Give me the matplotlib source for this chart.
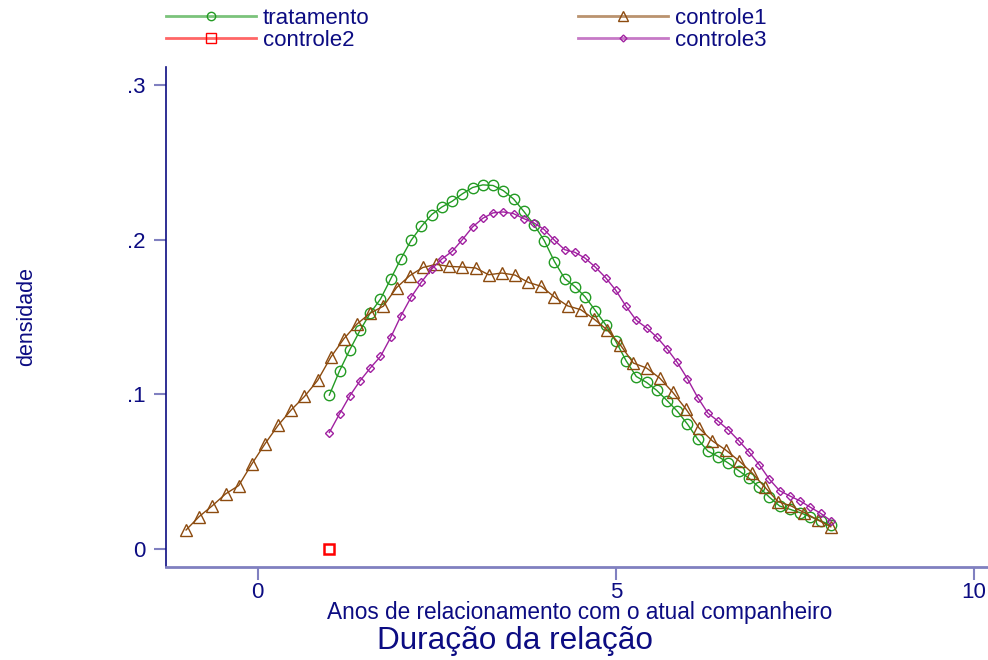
import numpy as np
import matplotlib
matplotlib.use('Agg')
import matplotlib.pyplot as plt
from matplotlib.lines import Line2D
from matplotlib.colors import to_rgba

plt.rcParams['font.family'] = ['Liberation Sans', 'DejaVu Sans']

# grades de avaliação das densidades (50 pontos cada)
x_trat = np.linspace(1, 8, 50)
x_c1 = np.linspace(-1, 8, 50)
x_c3 = np.linspace(1, 8, 50)
x_c2 = [1.0]

# densidades
y_trat = [0.0995, 0.1152, 0.1288, 0.1413, 0.1525, 0.1616, 0.1746, 0.1877, 0.1996, 0.2086,
          0.2162, 0.2211, 0.2248, 0.2296, 0.2337, 0.2354, 0.2350, 0.2317, 0.2263, 0.2183,
          0.2097, 0.1994, 0.1858, 0.1748, 0.1696, 0.1630, 0.1541, 0.1450, 0.1342, 0.1217,
          0.1115, 0.1077, 0.1025, 0.0960, 0.0891, 0.0807, 0.0710, 0.0632, 0.0598, 0.0555,
          0.0507, 0.0458, 0.0399, 0.0335, 0.0278, 0.0257, 0.0235, 0.0209, 0.0183, 0.0153]

y_c1 = [0.0123, 0.0210, 0.0280, 0.0356, 0.0410, 0.0550, 0.0680, 0.0800, 0.0900, 0.0986,
        0.1090, 0.1240, 0.1360, 0.1455, 0.1525, 0.1570, 0.1690, 0.1767, 0.1820, 0.1840,
        0.1827, 0.1823, 0.1817, 0.1773, 0.1784, 0.1771, 0.1724, 0.1698, 0.1629, 0.1572,
        0.1547, 0.1487, 0.1417, 0.1320, 0.1202, 0.1170, 0.1105, 0.1012, 0.0904, 0.0781,
        0.0699, 0.0641, 0.0572, 0.0494, 0.0399, 0.0306, 0.0278, 0.0235, 0.0188, 0.0144]

y_c3 = [0.0753, 0.0874, 0.0990, 0.1087, 0.1170, 0.1245, 0.1368, 0.1508, 0.1629, 0.1726,
        0.1810, 0.1875, 0.1924, 0.2000, 0.2082, 0.2138, 0.2173, 0.2179, 0.2168, 0.2136,
        0.2108, 0.2065, 0.1996, 0.1935, 0.1918, 0.1880, 0.1822, 0.1754, 0.1672, 0.1568,
        0.1478, 0.1430, 0.1370, 0.1294, 0.1206, 0.1100, 0.0979, 0.0878, 0.0826, 0.0770,
        0.0701, 0.0628, 0.0546, 0.0451, 0.0377, 0.0343, 0.0311, 0.0270, 0.0231, 0.0183]

y_c2 = [0.0]

labels = ['tratamento', 'controle1', 'controle2', 'controle3']
cores = ['#239b23', '#8c4b0f', '#ff0000', '#a020a0']

navy = '#0c0c82'
claro = '#8080c0'

fig = plt.figure(figsize=(9.88, 6.6), dpi=100)
W, H = 988, 660
ax = fig.add_axes([166 / W, 1 - 566.7 / H, (988 - 166) / W, (566.7 - 67) / H])

ax.plot(x_trat, y_trat, color=cores[0], lw=1, marker='o', ms=7.5, mfc='none', mew=1)
ax.plot(x_c1, y_c1, color=cores[1], lw=1, marker='^', ms=8.5, mfc='none', mew=1)
ax.plot(x_c2, y_c2, color=cores[2], lw=1, marker='s', ms=7.5, mfc='none', mew=1.8)
ax.plot(x_c3, y_c3, color=cores[3], lw=1, marker='D', ms=4, mfc='none', mew=1)

ax.set_xlim(-1.28, 10.195)
ax.set_ylim(-0.01144, 0.3116)
ax.set_xticks([0, 5, 10])
ax.set_xticklabels(['0', '5', '10'])
ax.set_yticks([0, 0.1, 0.2, 0.3])
ax.set_yticklabels(['0', '.1', '.2', '.3'])

for s in ['top', 'right']:
    ax.spines[s].set_visible(False)
ax.spines['left'].set_color(navy)
ax.spines['left'].set_linewidth(1.2)
ax.spines['bottom'].set_color(claro)
ax.spines['bottom'].set_linewidth(2)
ax.tick_params(axis='both', colors=claro, labelcolor=navy, labelsize=16,
               length=9, width=1.5)
ax.tick_params(axis='y', pad=5.5)
ax.tick_params(axis='x', pad=2)

fig.text(26.7 / W, 1 - 316.7 / H, 'densidade', rotation=90, ha='center', va='center',
         color=navy, fontsize=15.5)
fig.text(580 / W, 1 - 619.5 / H, 'Anos de relacionamento com o atual companheiro',
         ha='center', va='baseline', color=navy, fontsize=16.3)
fig.text(514.5 / W, 1 - 648.5 / H, 'Duração da relação', ha='center', va='baseline',
         color=navy, fontsize=22.7)

# legenda: linhas mais claras, marcadores na cor cheia
marcadores = {'tratamento': ('o', 6, 1), 'controle1': ('^', 7, 1),
              'controle2': ('s', 7.5, 1), 'controle3': ('D', 3.5, 1)}
handles = []
for lab, c in zip(labels, cores):
    m, ms, mew = marcadores[lab]
    handles.append(Line2D([], [], color=to_rgba(c, 0.6), lw=2, marker=m, ms=ms,
                          mfc='none', mec=c, mew=mew))
ordem = [0, 2, 1, 3]
leg = fig.legend([handles[i] for i in ordem], [labels[i] for i in ordem],
                 loc='upper left', bbox_to_anchor=(166 / W, 1 - 8 / H), ncol=2,
                 frameon=False, fontsize=16, handlelength=4.05, handletextpad=0.3,
                 columnspacing=9.4, labelspacing=0.05, borderpad=0, borderaxespad=0)
for t in leg.get_texts():
    t.set_color(navy)

fig.savefig('out.png', dpi=100)
